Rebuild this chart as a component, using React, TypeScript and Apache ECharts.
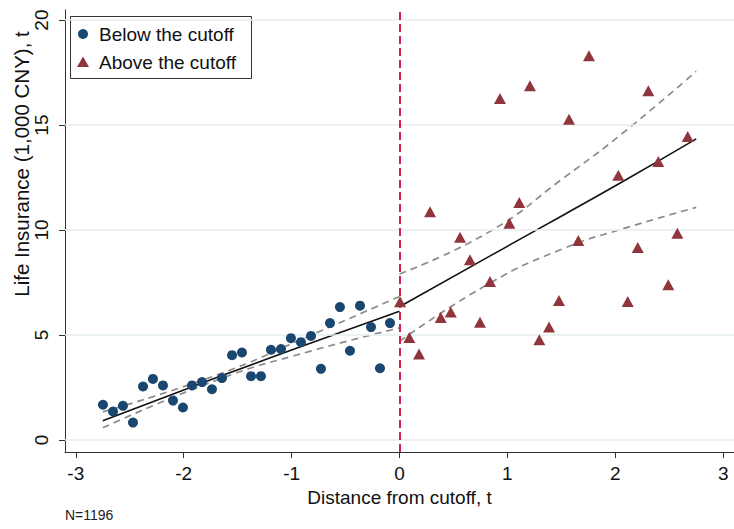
import { useEffect, useRef } from "react";
import * as echarts from "echarts";

// Binned means, below and above the cutoff
const belowX = [-2.748, -2.655, -2.563, -2.47, -2.377, -2.285, -2.192, -2.099, -2.007, -1.923, -1.83, -1.738, -1.645, -1.552, -1.46, -1.376, -1.284, -1.191, -1.098, -1.006, -0.913, -0.82, -0.728, -0.644, -0.552, -0.459, -0.366, -0.264, -0.181, -0.088];
const belowY = [1.68, 1.36, 1.63, 0.83, 2.55, 2.91, 2.6, 1.88, 1.55, 2.6, 2.76, 2.42, 2.95, 4.04, 4.17, 3.04, 3.04, 4.3, 4.33, 4.85, 4.66, 4.96, 3.39, 5.57, 6.33, 4.25, 6.4, 5.38, 3.42, 5.57];

const aboveX = [0.005, 0.091, 0.181, 0.283, 0.382, 0.475, 0.561, 0.653, 0.746, 0.839, 0.931, 1.018, 1.11, 1.209, 1.296, 1.386, 1.478, 1.571, 1.657, 1.756, 2.028, 2.115, 2.208, 2.306, 2.398, 2.491, 2.575, 2.671];
const aboveY = [6.59, 4.88, 4.1, 10.87, 5.83, 6.1, 9.66, 8.58, 5.61, 7.55, 16.27, 10.33, 11.31, 16.87, 4.77, 5.38, 6.64, 15.28, 9.5, 18.3, 12.61, 6.6, 9.17, 16.63, 13.26, 7.39, 9.85, 14.45];

// Local fits with 95% confidence bands
const leftGridX = [-2.75, -1.67, -0.84, 0];
const leftFitY = [0.92, 3.02, 4.58, 6.13];
const leftUpperY = [1.34, 3.14, 4.95, 6.84];
const leftLowerY = [0.58, 2.9, 4.21, 5.34];

const rightGridX = [0, 0.84, 1.52, 2.07, 2.75];
const rightFitY = [6.35, 8.77, 10.72, 12.31, 14.34];
const rightUpperY = [7.91, 9.94, 12.48, 14.62, 17.56];
const rightLowerY = [4.7, 7.48, 9.12, 10.06, 11.08];

const xTicks = [-3, -2, -1, 0, 1, 2, 3];
const yTicks = [0, 5, 10, 15, 20];

const FONT = "'Liberation Sans', Arial, Helvetica, sans-serif";
const BLUE = "#1a476f";
const MAROON = "#90353b";

const pairs = (xs: number[], ys: number[]) => xs.map((x, i) => [x, ys[i]]);

export default function App() {
  const ref = useRef<HTMLDivElement>(null);

  useEffect(() => {
    const chart = echarts.init(ref.current!, null, { renderer: "svg" });

    const ciLine = (xs: number[], ys: number[]) => ({
      type: "line",
      data: pairs(xs, ys),
      showSymbol: false,
      symbol: "none",
      smooth: 0.5,
      silent: true,
      z: 3,
      lineStyle: { color: "#8c8c8c", width: 1.7, type: [7, 5] },
    });
    const fitLine = (xs: number[], ys: number[]) => ({
      type: "line",
      data: pairs(xs, ys),
      showSymbol: false,
      symbol: "none",
      smooth: 0.5,
      silent: true,
      z: 4,
      lineStyle: { color: "#111", width: 1.6 },
    });

    chart.setOption({
      animation: false,
      backgroundColor: "#fff",
      textStyle: { fontFamily: FONT },
      grid: { left: 65, right: 0, top: 10, bottom: 77, containLabel: false },
      xAxis: {
        type: "value",
        min: -3.1,
        max: 3.1,
        name: "Distance from cutoff, t",
        nameLocation: "middle",
        nameGap: 29,
        nameTextStyle: { fontSize: 19, color: "#111", fontFamily: FONT },
        axisLine: { show: true, onZero: false, lineStyle: { color: "#333", width: 1 } },
        axisTick: { show: true, customValues: xTicks, length: 6, lineStyle: { color: "#333", width: 1 } },
        axisLabel: { customValues: xTicks, fontSize: 19, color: "#111", margin: 12, fontFamily: FONT },
        splitLine: { show: false },
      },
      yAxis: {
        type: "value",
        min: -0.57,
        max: 20.48,
        axisLine: { show: true, onZero: false, lineStyle: { color: "#333", width: 1 } },
        axisTick: { show: true, customValues: yTicks, length: 6, lineStyle: { color: "#333", width: 1 } },
        axisLabel: { customValues: yTicks, rotate: 90, fontSize: 19, color: "#111", margin: 14, fontFamily: FONT },
        splitLine: { show: false },
      },
      graphic: [
        {
          type: "text",
          x: 21,
          y: 164,
          rotation: Math.PI / 2,
          style: {
            text: "Life Insurance (1,000 CNY), t",
            fontSize: 20.5,
            fontFamily: FONT,
            fill: "#111",
            align: "center",
            verticalAlign: "middle",
          },
        },
        {
          type: "text",
          x: 65,
          y: 515,
          style: { text: "N=1196", fontSize: 14, fontFamily: FONT, fill: "#222", verticalAlign: "middle" },
        },
        {
          type: "group",
          z: 100,
          children: [
            {
              type: "rect",
              shape: { x: 70.5, y: 16.5, width: 181, height: 62 },
              style: { fill: "#fff", stroke: "#333", lineWidth: 1 },
            },
            { type: "circle", shape: { cx: 83, cy: 34, r: 5 }, style: { fill: BLUE } },
            {
              type: "polygon",
              shape: { points: [[83, 56.5], [89, 67], [77, 67]] },
              style: { fill: MAROON },
            },
            {
              type: "text",
              x: 99,
              y: 34,
              style: { text: "Below the cutoff", fontSize: 19, fontFamily: FONT, fill: "#111", verticalAlign: "middle" },
            },
            {
              type: "text",
              x: 99,
              y: 62,
              style: { text: "Above the cutoff", fontSize: 19, fontFamily: FONT, fill: "#111", verticalAlign: "middle" },
            },
          ],
        },
      ],
      series: [
        {
          type: "line",
          data: [],
          silent: true,
          z: 1,
          markLine: {
            silent: true,
            symbol: "none",
            label: { show: false },
            lineStyle: { color: "#e5eef1", width: 1.5, type: "solid" },
            data: yTicks.map((v) => ({ yAxis: v })),
          },
        },
        {
          type: "line",
          data: [],
          silent: true,
          z: 2,
          markLine: {
            silent: true,
            symbol: "none",
            label: { show: false },
            lineStyle: { color: "#d61f4b", width: 2, type: [8, 4] },
            data: [{ xAxis: 0 }],
          },
        },
        ciLine(leftGridX, leftUpperY),
        ciLine(leftGridX, leftLowerY),
        ciLine(rightGridX, rightUpperY),
        ciLine(rightGridX, rightLowerY),
        fitLine(leftGridX, leftFitY),
        fitLine(rightGridX, rightFitY),
        {
          name: "Below the cutoff",
          type: "scatter",
          data: pairs(belowX, belowY),
          symbol: "circle",
          symbolSize: 10,
          z: 5,
          itemStyle: { color: BLUE, opacity: 1 },
        },
        {
          name: "Above the cutoff",
          type: "scatter",
          data: pairs(aboveX, aboveY),
          symbol: "triangle",
          symbolSize: [12, 11],
          z: 5,
          itemStyle: { color: MAROON, opacity: 1 },
        },
      ],
    });

    return () => chart.dispose();
  }, []);

  return (
    <div
      ref={ref}
      style={{ position: "fixed", left: 0, top: 0, width: 734, height: 529, background: "#fff" }}
    />
  );
}
